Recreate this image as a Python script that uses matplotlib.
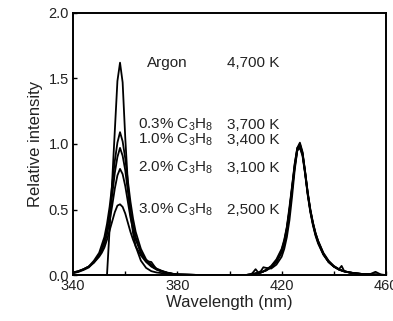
import matplotlib
matplotlib.use("Agg")
import matplotlib.pyplot as plt
from matplotlib.ticker import FixedLocator, MultipleLocator

plt.rcParams["font.family"] = ["Liberation Sans", "DejaVu Sans"]
plt.rcParams["mathtext.fontset"] = "custom"
plt.rcParams["mathtext.rm"] = "Liberation Sans"
plt.rcParams["mathtext.it"] = "Liberation Sans:italic"

# wavelength grid (nm)
wl = [340, 342, 344, 346, 348, 350, 351, 352, 353, 354, 355, 356, 357, 358, 359,
      360, 361, 362, 363, 364, 366, 368, 370, 372, 374, 376, 378, 380, 390, 400,
      406, 408, 409, 410, 411, 412, 413, 414, 416, 418, 420, 421, 422, 423, 424,
      425, 426, 427, 428, 429, 430, 431, 432, 433, 434, 436, 438, 440, 442, 443,
      444, 446, 448, 450, 452, 454, 456, 458, 460]

argon = [0, 0, 0, 0, 0, 0, 0, 0, 0, 0.35, 0.72, 1.10, 1.48, 1.62, 1.47,
         1.05, 0.70, 0.47, 0.32, 0.22, 0.11, 0.055, 0.03, 0.02, 0.015, 0.01, 0.005, 0, 0, 0,
         0, 0, 0.02, 0.045, 0.02, 0.03, 0.06, 0.055, 0.05, 0.08, 0.14, 0.20, 0.29, 0.42, 0.60,
         0.80, 0.95, 1.0, 0.93, 0.78, 0.62, 0.49, 0.39, 0.31, 0.25, 0.16, 0.10, 0.065, 0.042, 0.035,
         0.028, 0.02, 0.014, 0.01, 0.007, 0.005, 0.004, 0.002, 0]

c3h8_03 = [0.016, 0.027, 0.044, 0.065, 0.11, 0.17, 0.23, 0.29, 0.39, 0.52, 0.69, 0.87, 1.01, 1.09, 1.02,
           0.89, 0.72, 0.56, 0.43, 0.33, 0.20, 0.12, 0.08, 0.05, 0.033, 0.02, 0.011, 0.005, 0, 0,
           0, 0.005, 0.008, 0.012, 0.016, 0.02, 0.028, 0.035, 0.06, 0.10, 0.18, 0.25, 0.35, 0.49, 0.66,
           0.83, 0.96, 0.98, 0.92, 0.78, 0.62, 0.49, 0.39, 0.31, 0.25, 0.16, 0.10, 0.065, 0.042, 0.035,
           0.028, 0.02, 0.014, 0.01, 0.007, 0.005, 0.004, 0.002, 0]

c3h8_10 = [0.015, 0.024, 0.039, 0.058, 0.097, 0.155, 0.20, 0.26, 0.35, 0.47, 0.61, 0.78, 0.90, 0.97, 0.91,
           0.80, 0.64, 0.49, 0.38, 0.29, 0.175, 0.107, 0.10, 0.044, 0.029, 0.017, 0.01, 0.005, 0, 0,
           0, 0.005, 0.008, 0.012, 0.016, 0.02, 0.028, 0.04, 0.07, 0.12, 0.20, 0.27, 0.37, 0.52, 0.68,
           0.85, 0.97, 1.01, 0.94, 0.79, 0.63, 0.50, 0.40, 0.32, 0.26, 0.17, 0.11, 0.07, 0.045, 0.07,
           0.03, 0.02, 0.014, 0.01, 0.007, 0.008, 0.025, 0.005, 0]

c3h8_20 = [0.02, 0.03, 0.045, 0.065, 0.10, 0.15, 0.19, 0.24, 0.31, 0.41, 0.53, 0.66, 0.76, 0.81, 0.77,
           0.68, 0.56, 0.44, 0.35, 0.27, 0.17, 0.11, 0.07, 0.045, 0.03, 0.018, 0.01, 0.005, 0, 0,
           0, 0.005, 0.008, 0.012, 0.016, 0.02, 0.028, 0.035, 0.06, 0.10, 0.17, 0.24, 0.34, 0.48, 0.65,
           0.82, 0.95, 0.97, 0.91, 0.77, 0.61, 0.48, 0.38, 0.30, 0.24, 0.155, 0.10, 0.065, 0.042, 0.035,
           0.028, 0.02, 0.014, 0.01, 0.007, 0.005, 0.004, 0.002, 0]

c3h8_30 = [0.02, 0.03, 0.045, 0.065, 0.095, 0.14, 0.17, 0.21, 0.27, 0.34, 0.41, 0.48, 0.53, 0.54, 0.52,
           0.47, 0.40, 0.33, 0.27, 0.22, 0.15, 0.10, 0.065, 0.042, 0.028, 0.017, 0.01, 0.005, 0, 0,
           0, 0.005, 0.008, 0.012, 0.016, 0.02, 0.028, 0.04, 0.065, 0.11, 0.19, 0.26, 0.36, 0.50, 0.67,
           0.84, 0.97, 0.99, 0.93, 0.79, 0.63, 0.50, 0.40, 0.32, 0.26, 0.165, 0.105, 0.068, 0.044, 0.036,
           0.03, 0.021, 0.015, 0.01, 0.007, 0.005, 0.004, 0.002, 0]

curves = [argon, c3h8_03, c3h8_10, c3h8_20, c3h8_30]

labels = ["Argon", "0.3% C$_3$H$_8$", "1.0% C$_3$H$_8$", "2.0% C$_3$H$_8$", "3.0% C$_3$H$_8$"]
temps = ["4,700 K", "3,700 K", "3,400 K", "3,100 K", "2,500 K"]
label_x = [368.3, 364.9, 364.9, 364.9, 364.9]
label_y = [1.62, 1.145, 1.03, 0.815, 0.50]

x_ticks = [340, 380, 420, 460]

fig = plt.figure(figsize=(3.93, 3.21), dpi=100)
ax = fig.add_axes([0.186, 0.143, 0.796, 0.817])

for c in curves:
    ax.plot(wl, c, color="black", lw=1.3)

txt = "#222222"
for lab, t, x, y in zip(labels, temps, label_x, label_y):
    ax.text(x, y, lab, ha="left", va="center", fontsize=11, color=txt)
    ax.text(399, y, t, ha="left", va="center", fontsize=11, color=txt)

ax.set_xlim(340, 460)
ax.set_ylim(0, 2.0)
ax.xaxis.set_major_locator(FixedLocator(x_ticks))
ax.xaxis.set_minor_locator(MultipleLocator(20))
ax.yaxis.set_major_locator(MultipleLocator(0.5))
ax.yaxis.set_major_formatter(plt.FormatStrFormatter("%.1f"))
ax.tick_params(direction="in", length=3, width=1, labelsize=10.5, labelcolor=txt, pad=3)
ax.tick_params(which="minor", direction="in", length=3, width=1)
for s in ax.spines.values():
    s.set_linewidth(1.4)

ax.set_xlabel("Wavelength (nm)", fontsize=12, color=txt, labelpad=1)
ax.set_ylabel("Relative intensity", fontsize=12, color=txt, labelpad=4)

fig.savefig("out.png", dpi=100)
